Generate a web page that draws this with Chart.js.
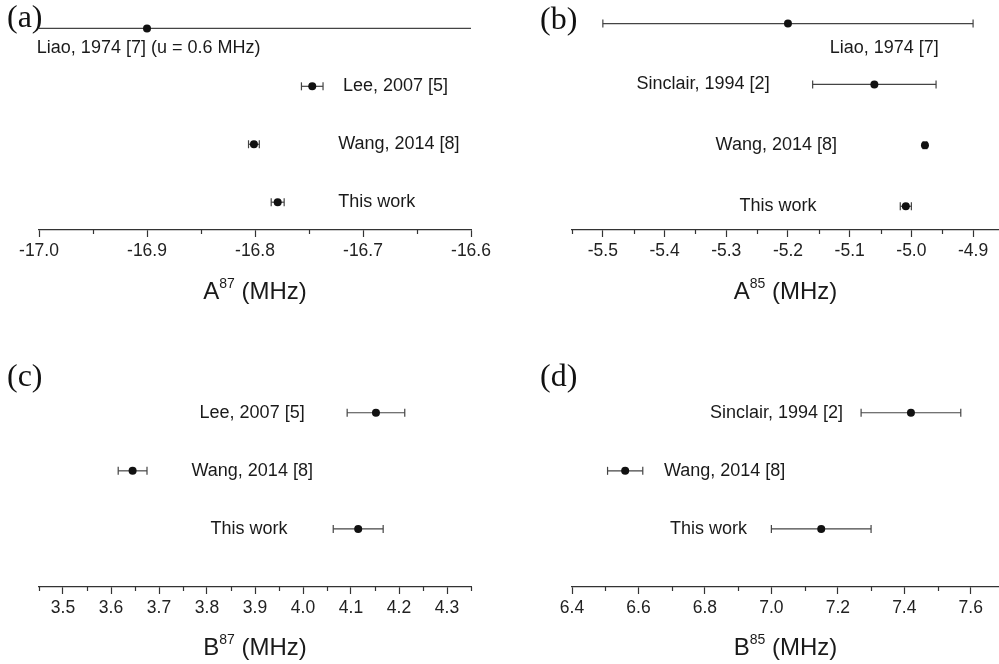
<!DOCTYPE html>
<html lang="en">
<head>
<meta charset="UTF-8">
<title>Hyperfine constants comparison</title>
<style>
  html, body { margin: 0; padding: 0; background: #fff; }
  #wrap { position: relative; width: 999px; height: 664px; overflow: hidden; }
  canvas { position: absolute; }
</style>
</head>
<body>
<div id="wrap">
  <canvas id="pa" width="500" height="330" style="left:0;top:0"></canvas>
  <canvas id="pb" width="499" height="330" style="left:500px;top:0"></canvas>
  <canvas id="pc" width="500" height="334" style="left:0;top:330px"></canvas>
  <canvas id="pd" width="499" height="334" style="left:500px;top:330px"></canvas>
</div>
<script src="https://cdn.jsdelivr.net/npm/chart.js"></script>
<script>
// (a) A87, rows listed top to bottom
const a87Labels = ['Liao, 1974 [7] (u = 0.6 MHz)', 'Lee, 2007 [5]', 'Wang, 2014 [8]', 'This work'];
const a87Values = [-16.9, -16.747, -16.801, -16.779];
const a87Errors = [0.6, 0.010, 0.005, 0.006];
const a87Ticks = [-17.0, -16.9, -16.8, -16.7, -16.6];

// (b) A85
const a85Labels = ['Liao, 1974 [7]', 'Sinclair, 1994 [2]', 'Wang, 2014 [8]', 'This work'];
const a85Values = [-5.2, -5.06, -4.978, -5.009];
const a85Errors = [0.3, 0.1, 0.003, 0.009];
const a85Ticks = [-5.5, -5.4, -5.3, -5.2, -5.1, -5.0, -4.9];

// (c) B87
const b87Labels = ['Lee, 2007 [5]', 'Wang, 2014 [8]', 'This work'];
const b87Values = [4.152, 3.645, 4.115];
const b87Errors = [0.06, 0.03, 0.052];
const b87Ticks = [3.5, 3.6, 3.7, 3.8, 3.9, 4.0, 4.1, 4.2, 4.3];

// (d) B85
const b85Labels = ['Sinclair, 1994 [2]', 'Wang, 2014 [8]', 'This work'];
const b85Values = [7.42, 6.56, 7.15];
const b85Errors = [0.15, 0.053, 0.15];
const b85Ticks = [6.4, 6.6, 6.8, 7.0, 7.2, 7.4, 7.6];

const SANS = '"Liberation Sans", Arial, sans-serif';
const SERIF = '"Liberation Serif", "Times New Roman", serif';

// layout of each panel (label anchors are in axis units: [x value, row])
const panels = [
  { id: 'pa', letter: '(a)', letterAt: [7, 27], title: ['A', '87'],
    labels: a87Labels, values: a87Values, errors: a87Errors, ticks: a87Ticks,
    xMin: -17.0, xMax: -16.6, minor: 0.05, yMin: 0.52, yMax: 4.3,
    pad: { left: 39, right: 29, top: 11 }, axisH: 100, titleDy: 69,
    labelAt: [[-17.002, 3.655], [-16.7185, 3], [-16.723, 2], [-16.723, 1]] },
  { id: 'pb', letter: '(b)', letterAt: [40, 29], title: ['A', '85'],
    labels: a85Labels, values: a85Values, errors: a85Errors, ticks: a85Ticks,
    xMin: -5.55, xMax: -4.858, minor: 0.05, yMin: 0.61, yMax: 4.206,
    pad: { left: 72, right: 0, top: 11 }, axisH: 100, titleDy: 69,
    labelAt: [[-5.1324, 3.6], [-5.4454, 3], [-5.3173, 2], [-5.2784, 1]] },
  { id: 'pc', letter: '(c)', letterAt: [7, 56], title: ['B', '87'],
    labels: b87Labels, values: b87Values, errors: b87Errors, ticks: b87Ticks,
    xMin: 3.45, xMax: 4.35, minor: 0.05, yMin: 0, yMax: 3.736,
    pad: { left: 39, right: 29, top: 40 }, axisH: 77, titleDy: 68,
    labelAt: [[3.7845, 3], [3.7677, 2], [3.8075, 1]] },
  { id: 'pd', letter: '(d)', letterAt: [40, 56], title: ['B', '85'],
    labels: b85Labels, values: b85Values, errors: b85Errors, ticks: b85Ticks,
    xMin: 6.4, xMax: 7.685, minor: 0.1, yMin: 0, yMax: 3.736,
    pad: { left: 72, right: 0, top: 40 }, axisH: 77, titleDy: 68,
    labelAt: [[6.815, 3], [6.6767, 2], [6.6947, 1]] }
];

// minor ticks, point labels, axis title with superscript, panel letter
const decor = {
  id: 'decor',
  afterDraw(chart, args, p) {
    const ctx = chart.ctx, xs = chart.scales.x, ys = chart.scales.y, area = chart.chartArea;
    ctx.save();

    ctx.strokeStyle = '#333';
    ctx.lineWidth = 1.2;
    const k0 = Math.ceil(p.xMin / p.minor - 1e-6), k1 = Math.floor(p.xMax / p.minor + 1e-6);
    for (let k = k0; k <= k1; k++) {
      const v = k * p.minor;
      if (p.ticks.some(t => Math.abs(t - v) < 1e-6)) continue;
      const px = Math.round(xs.getPixelForValue(v)) + 0.5;
      ctx.beginPath();
      ctx.moveTo(px, area.bottom);
      ctx.lineTo(px, area.bottom + 4);
      ctx.stroke();
    }

    ctx.fillStyle = '#1a1a1a';
    ctx.font = '18px ' + SANS;
    ctx.textAlign = 'left';
    ctx.textBaseline = 'middle';
    p.labels.forEach((txt, i) => {
      const at = p.labelAt[i];
      ctx.fillText(txt, xs.getPixelForValue(at[0]), ys.getPixelForValue(at[1]));
    });

    // axis title
    ctx.textBaseline = 'alphabetic';
    ctx.font = '24px ' + SANS;
    const wBase = ctx.measureText(p.title[0]).width;
    const rest = ' (MHz)';
    const wRest = ctx.measureText(rest).width;
    ctx.font = '14px ' + SANS;
    const wSup = ctx.measureText(p.title[1]).width;
    let tx = (area.left + area.right) / 2 - (wBase + wSup + wRest) / 2;
    const ty = area.bottom + p.titleDy;
    ctx.font = '24px ' + SANS;
    ctx.fillText(p.title[0], tx, ty);
    tx += wBase;
    ctx.font = '14px ' + SANS;
    ctx.fillText(p.title[1], tx, ty - 11.5);
    tx += wSup;
    ctx.font = '24px ' + SANS;
    ctx.fillText(rest, tx, ty);

    ctx.font = '32px ' + SERIF;
    ctx.fillStyle = '#111';
    ctx.fillText(p.letter, p.letterAt[0], p.letterAt[1]);
    ctx.restore();
  }
};

function buildDatasets(values, errors) {
  const n = values.length;
  const sets = [{
    data: values.map((v, i) => ({ x: v, y: n - i })),
    pointStyle: 'circle', pointRadius: 4,
    pointBackgroundColor: '#111', pointBorderColor: '#111', pointBorderWidth: 0
  }];
  values.forEach((v, i) => {
    sets.push({
      data: [{ x: v - errors[i], y: n - i }, { x: v + errors[i], y: n - i }],
      showLine: true, borderColor: '#444', borderWidth: 1.2,
      pointStyle: 'line', pointRotation: 90, pointRadius: 4,
      pointBorderColor: '#444', pointBorderWidth: 1.2
    });
  });
  return sets;
}

panels.forEach(p => {
  new Chart(document.getElementById(p.id), {
    type: 'scatter',
    data: { datasets: buildDatasets(p.values, p.errors) },
    plugins: [decor],
    options: {
      responsive: false,
      animation: false,
      events: [],
      layout: {
        autoPadding: false,
        padding: { left: p.pad.left, right: p.pad.right, top: p.pad.top, bottom: 0 }
      },
      plugins: {
        legend: { display: false },
        tooltip: { enabled: false },
        decor: p
      },
      scales: {
        x: {
          type: 'linear', position: 'bottom', bounds: 'data',
          min: p.xMin, max: p.xMax,
          afterBuildTicks: s => { s.ticks = p.ticks.map(v => ({ value: v })); },
          afterFit: s => {
            s.height = p.axisH;
            s.paddingLeft = 0;
            s.paddingRight = 0;
          },
          grid: { drawOnChartArea: false, drawTicks: true, tickLength: 7, tickColor: '#333', tickWidth: 1.2 },
          border: { display: true, color: '#333', width: 1.3 },
          ticks: {
            color: '#222', padding: 4, maxRotation: 0, autoSkip: false,
            font: { family: SANS, size: 17.5 },
            callback: v => Number(v).toFixed(1)
          }
        },
        y: { type: 'linear', display: false, min: p.yMin, max: p.yMax }
      }
    }
  });
});
</script>
</body>
</html>
